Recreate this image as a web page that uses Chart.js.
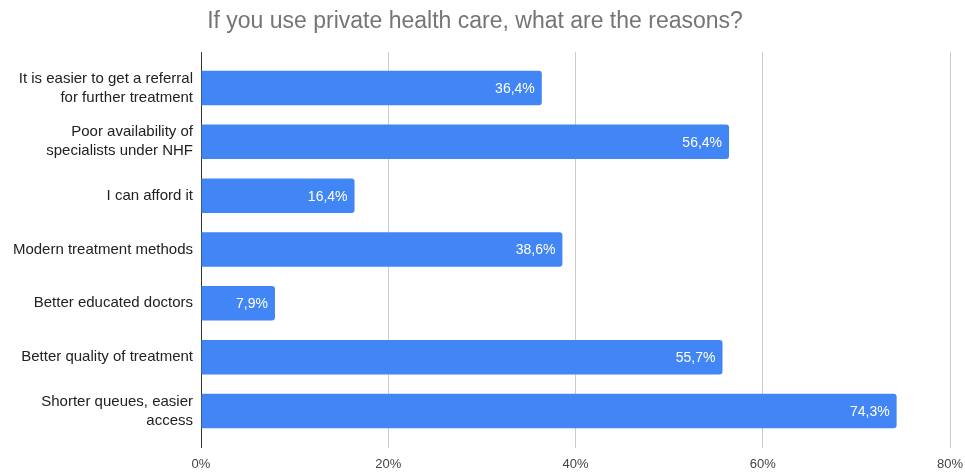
<!DOCTYPE html>
<html>
<head>
<meta charset="utf-8">
<script src="https://cdn.jsdelivr.net/npm/chart.js@4"></script>
<style>
  html, body { margin: 0; padding: 0; background: #fff; }
  #wrap { width: 965px; height: 472px; }
</style>
</head>
<body>
<div id="wrap"><canvas id="chart"></canvas></div>
<script>
const titleText = 'If you use private health care, what are the reasons?';
const reasons = [
  ['It is easier to get a referral', 'for further treatment'],
  ['Poor availability of', 'specialists under NHF'],
  'I can afford it',
  'Modern treatment methods',
  'Better educated doctors',
  'Better quality of treatment',
  ['Shorter queues, easier', 'access']
];
const shares = [36.4, 56.4, 16.4, 38.6, 7.9, 55.7, 74.3];
const xTicks = [0, 20, 40, 60, 80];

const pct = v => v.toFixed(1).replace('.', ',') + '%';

// white value labels at the inner end of each bar
const barLabels = {
  id: 'barLabels',
  afterDatasetsDraw(chart) {
    const c = chart.ctx;
    const meta = chart.getDatasetMeta(0);
    c.save();
    c.font = '14px "Liberation Sans", Arial, sans-serif';
    c.fillStyle = '#ffffff';
    c.textAlign = 'right';
    c.textBaseline = 'middle';
    meta.data.forEach((bar, i) => {
      c.fillText(pct(shares[i]), bar.x - 7, bar.y + 1);
    });
    c.restore();
  }
};

// gridlines run a bit above the plot area like the original
const gridTop = {
  id: 'gridTop',
  beforeDatasetsDraw(chart) {
    const c = chart.ctx;
    const x = chart.scales.x;
    const top = chart.chartArea.top;
    c.save();
    c.lineWidth = 1;
    xTicks.forEach(t => {
      const px = Math.round(x.getPixelForValue(t) - 0.5) + 0.5;
      c.strokeStyle = t === 0 ? '#333333' : '#cccccc';
      c.beginPath();
      c.moveTo(px, top - 9);
      c.lineTo(px, top);
      c.stroke();
    });
    c.restore();
  }
};

new Chart(document.getElementById('chart'), {
  type: 'bar',
  data: {
    labels: reasons,
    datasets: [{
      data: shares,
      backgroundColor: '#4285f4',
      borderRadius: 3,
      borderSkipped: 'start',
      barPercentage: 0.64,
      categoryPercentage: 1
    }]
  },
  options: {
    indexAxis: 'y',
    responsive: true,
    maintainAspectRatio: false,
    animation: false,
    layout: { padding: { left: 0, right: 15, top: 0, bottom: 0 } },
    plugins: {
      legend: { display: false },
      tooltip: { enabled: false },
      title: {
        display: true,
        text: titleText,
        color: '#757575',
        font: { family: '"Liberation Sans", Arial, sans-serif', size: 23, weight: 'normal' },
        padding: { top: 8, bottom: 25.4 }
      }
    },
    scales: {
      x: {
        min: 0,
        max: 80,
        afterBuildTicks: axis => { axis.ticks = xTicks.map(v => ({ value: v })); },
        afterFit: axis => {
          axis.height = 34;
          axis.paddingLeft = 0;
          axis.paddingRight = 0;
        },
        border: { display: false },
        grid: {
          color: ctx => (ctx.tick && ctx.tick.value === 0 ? '#333333' : '#cccccc'),
          lineWidth: 1,
          drawTicks: true,
          tickLength: 10
        },
        ticks: {
          callback: v => v + '%',
          color: '#444444',
          padding: 9,
          font: { family: '"Liberation Sans", Arial, sans-serif', size: 13 }
        }
      },
      y: {
        afterFit: axis => { axis.width = 201; },
        border: { display: false },
        grid: { display: false, drawTicks: false },
        ticks: {
          color: '#222222',
          padding: 8,
          font: { family: '"Liberation Sans", Arial, sans-serif', size: 15, lineHeight: 1.27 }
        }
      }
    }
  },
  plugins: [barLabels, gridTop]
});
</script>
</body>
</html>
